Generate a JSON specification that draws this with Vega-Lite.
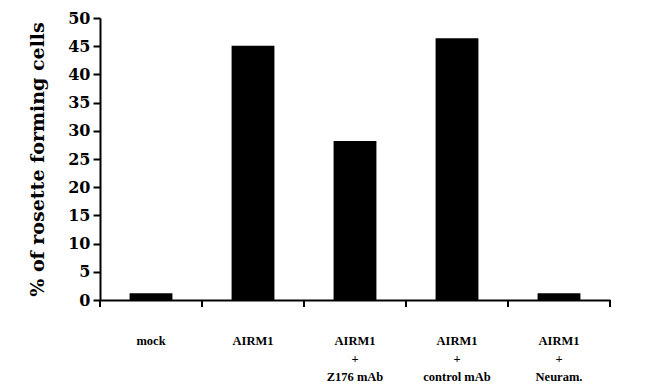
{
  "$schema": "https://vega.github.io/schema/vega-lite/v6.json",
  "autosize": "none",
  "width": 510,
  "height": 282,
  "padding": {"left": 100, "top": 18, "right": 40, "bottom": 90},
  "background": "white",
  "data": {
    "values": [
      {"group": "mock", "value": 1.2},
      {"group": "AIRM1", "value": 45.1},
      {"group": "AIRM1|+|Z176 mAb", "value": 28.2},
      {"group": "AIRM1|+|control mAb", "value": 46.4},
      {"group": "AIRM1|+|Neuram.", "value": 1.2}
    ]
  },
  "config": {
    "view": {"stroke": null},
    "axis": {"labelFont": "DejaVu Serif", "titleFont": "DejaVu Serif", "labelColor": "black", "titleColor": "black", "domainColor": "black", "tickColor": "black"}
  },
  "encoding": {
    "x": {
      "field": "group",
      "type": "nominal",
      "sort": null,
      "scale": {"paddingInner": 0.58, "paddingOuter": 0.29},
      "axis": {
        "title": null,
        "labelAngle": 0,
        "labelExpr": "datum.value ? split(datum.value, '|') : ''",
        "labelFont": "Liberation Serif",
        "labelFontSize": 12.5,
        "labelFontWeight": "bold",
        "labelPadding": 34,
        "labelLineHeight": 18,
        "labelBaseline": "top",
        "ticks": false,
        "domainWidth": 2
      }
    }
  },
  "layer": [
    {
      "mark": {"type": "bar", "color": "black"},
      "encoding": {
        "y": {
          "field": "value",
          "type": "quantitative",
          "scale": {"domain": [0, 50], "nice": false},
          "axis": {
            "title": "% of rosette forming cells",
            "titleFontSize": 19,
            "titleFontWeight": "bold",
            "titlePadding": 20,
            "values": [0, 5, 10, 15, 20, 25, 30, 35, 40, 45, 50],
            "labelFontSize": 16,
            "labelFontWeight": "bold",
            "labelPadding": 3,
            "tickSize": 7,
            "tickWidth": 2,
            "domainWidth": 2,
            "grid": false
          }
        }
      }
    },
    {
      "mark": {"type": "rule", "color": "black", "strokeWidth": 2, "clip": false},
      "encoding": {
        "x": {"field": "group", "type": "nominal", "sort": null, "bandPosition": -0.69},
        "y": {
          "datum": 0,
          "type": "quantitative",
          "scale": {"domain": [0, 50], "nice": false},
          "axis": {
            "title": "% of rosette forming cells",
            "titleFontSize": 19,
            "titleFontWeight": "bold",
            "titlePadding": 20,
            "values": [0, 5, 10, 15, 20, 25, 30, 35, 40, 45, 50],
            "labelFontSize": 16,
            "labelFontWeight": "bold",
            "labelPadding": 3,
            "tickSize": 7,
            "tickWidth": 2,
            "domainWidth": 2,
            "grid": false
          }
        },
        "y2": {"datum": -1.25}
      }
    },
    {
      "transform": [{"filter": "datum.group == 'AIRM1|+|Neuram.'"}],
      "mark": {"type": "rule", "color": "black", "strokeWidth": 2, "clip": false},
      "encoding": {
        "x": {"field": "group", "type": "nominal", "sort": null, "bandPosition": 1.69},
        "y": {
          "datum": 0,
          "type": "quantitative",
          "scale": {"domain": [0, 50], "nice": false},
          "axis": {
            "title": "% of rosette forming cells",
            "titleFontSize": 19,
            "titleFontWeight": "bold",
            "titlePadding": 20,
            "values": [0, 5, 10, 15, 20, 25, 30, 35, 40, 45, 50],
            "labelFontSize": 16,
            "labelFontWeight": "bold",
            "labelPadding": 3,
            "tickSize": 7,
            "tickWidth": 2,
            "domainWidth": 2,
            "grid": false
          }
        },
        "y2": {"datum": -1.25}
      }
    }
  ]
}
